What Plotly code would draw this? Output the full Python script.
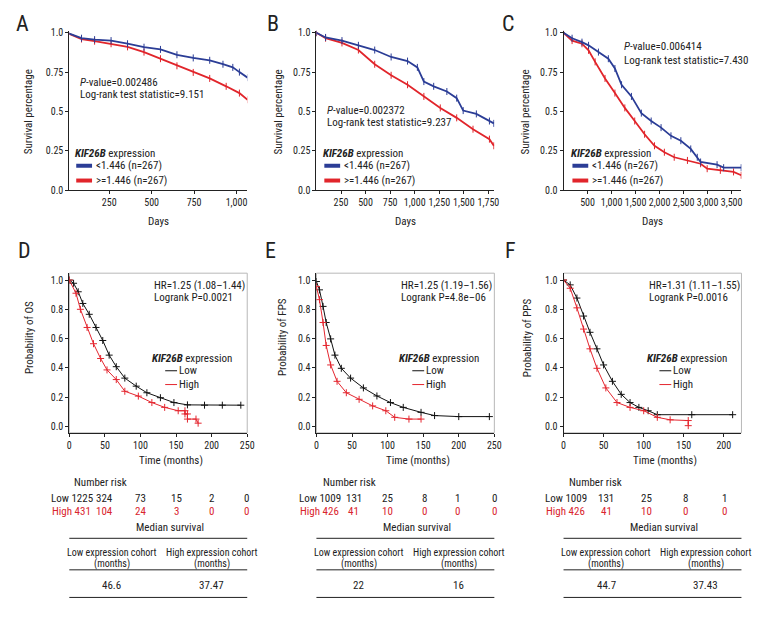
import plotly.graph_objects as go

FONT = "Roboto Condensed, Liberation Sans Narrow, sans-serif"
W, H = 780, 624
OFF = 8  # page body margin
BLUE = "#2b3d96"
RED = "#e1252b"
DRED = "#d9252e"
TXT = "#222222"
FS = 11
TFS = 10

# ---------------- data ----------------
# Panel A (days)
a_low_t = [0, 87, 164, 261, 358, 455, 552, 649, 745, 842, 920, 978, 1017, 1065]
a_low_s = [1.0, 0.965, 0.956, 0.95, 0.93, 0.908, 0.894, 0.86, 0.84, 0.825, 0.80, 0.78, 0.75, 0.715]
a_high_t = [0, 87, 164, 261, 358, 455, 552, 649, 745, 842, 939, 1017, 1065]
a_high_s = [1.0, 0.96, 0.946, 0.93, 0.91, 0.877, 0.835, 0.79, 0.748, 0.71, 0.66, 0.617, 0.575]
# Panel B
b_low_t = [0, 93, 260, 427, 593, 760, 927, 1027, 1093, 1193, 1327, 1427, 1493, 1627, 1760, 1805]
b_low_s = [1.0, 0.97, 0.95, 0.92, 0.89, 0.846, 0.82, 0.78, 0.69, 0.66, 0.627, 0.585, 0.506, 0.485, 0.44, 0.425]
b_high_t = [0, 93, 260, 427, 593, 760, 927, 1093, 1260, 1427, 1593, 1760, 1805]
b_high_s = [1.0, 0.965, 0.935, 0.89, 0.80, 0.73, 0.67, 0.596, 0.523, 0.46, 0.388, 0.325, 0.283]
# Panel C
c_low_t = [0, 178, 384, 521, 727, 933, 1070, 1208, 1414, 1620, 1825, 2031, 2237, 2443, 2649, 2785, 2854, 3197, 3334, 3700]
c_low_s = [1.0, 0.965, 0.94, 0.92, 0.877, 0.835, 0.773, 0.67, 0.596, 0.49, 0.44, 0.398, 0.346, 0.315, 0.263, 0.21, 0.18, 0.163, 0.144, 0.144]
c_high_t = [0, 178, 384, 521, 658, 864, 1070, 1276, 1482, 1688, 1894, 2100, 2305, 2580, 2854, 2991, 3265, 3540, 3700]
c_high_s = [1.0, 0.95, 0.93, 0.888, 0.815, 0.71, 0.617, 0.523, 0.44, 0.356, 0.283, 0.242, 0.21, 0.19, 0.169, 0.1375, 0.127, 0.117, 0.096]
# Panel D (months)
d_low_t = [0, 6, 12.5, 19, 28, 37.5, 47, 56, 66, 78, 94, 109, 128, 147, 166, 190, 215, 241]
d_low_s = [1.0, 0.978, 0.92, 0.84, 0.766, 0.676, 0.587, 0.487, 0.408, 0.33, 0.275, 0.23, 0.196, 0.163, 0.147, 0.145, 0.145, 0.145]
d_high_t = [0, 9.4, 15.6, 25, 34, 44, 53, 66, 78, 97, 116, 134, 153, 162.5, 162.5, 166, 166, 178, 181]
d_high_s = [1.0, 0.91, 0.80, 0.676, 0.565, 0.464, 0.386, 0.32, 0.24, 0.207, 0.163, 0.13, 0.107, 0.107, 0.085, 0.085, 0.05, 0.05, 0.022]
# Panel E
e_low_t = [0, 4.3, 9.3, 13.7, 20, 26, 35, 48, 66, 85, 104, 122, 147, 166, 200, 243]
e_low_s = [0.99, 0.933, 0.82, 0.71, 0.598, 0.487, 0.397, 0.33, 0.263, 0.208, 0.163, 0.13, 0.096, 0.074, 0.067, 0.067]
e_high_t = [0, 4.3, 9.3, 13.7, 20, 29, 42, 60, 79, 97.5, 110, 130, 147]
e_high_s = [0.955, 0.866, 0.71, 0.553, 0.42, 0.308, 0.23, 0.185, 0.14, 0.107, 0.062, 0.05, 0.05]
# Panel F
f_low_t = [0, 8.3, 16.7, 25, 33, 41.7, 50, 61, 72, 83, 94, 105.6, 117, 160, 211]
f_low_s = [1.0, 0.967, 0.877, 0.754, 0.643, 0.53, 0.42, 0.308, 0.219, 0.163, 0.13, 0.107, 0.08, 0.08, 0.08]
f_high_t = [0, 8.3, 16.7, 25, 33, 41.7, 52.8, 66.7, 83, 100, 117, 133, 155.6, 155.6]
f_high_s = [1.0, 0.944, 0.81, 0.665, 0.53, 0.397, 0.263, 0.163, 0.13, 0.107, 0.062, 0.045, 0.04, 0.005]

top_stats = [("0.002486", "9.151"), ("0.002372", "9.237"), ("0.006414", "7.430")]
top_groups = ["<1.446 (n=267)", ">=1.446 (n=267)"]
bottom_hr = [("1.25 (1.08\u20131.44)", "0.0021"), ("1.25 (1.19\u20131.56)", "4.8e\u201306"), ("1.31 (1.11\u20131.55)", "0.0016")]
bottom_ylabels = ["Probability of OS", "Probability of FPS", "Probability of PPS"]
risk_low = [["1225", "324", "73", "15", "2", "0"], ["1009", "131", "25", "8", "1", "0"], ["1009", "131", "25", "8", "1"]]
risk_high = [["431", "104", "24", "3", "0", "0"], ["426", "41", "10", "0", "0", "0"], ["426", "41", "10", "0", "0"]]
median_low = ["46.6", "22", "44.7"]
median_high = ["37.47", "16", "37.43"]

# ---------------- layout helpers ----------------
def px(x):
    return (x - OFF) / W

def py(y):
    return 1 - (y - OFF) / H

fig = go.Figure()
annotations = []
shapes = []

def ann(x, y, text, xanchor="left", size=FS, color=TXT, angle=0):
    annotations.append(dict(x=px(x), y=py(y), xref="paper", yref="paper", text=text,
                            showarrow=False, xanchor=xanchor, yanchor="middle", borderpad=0,
                            textangle=angle, font=dict(family=FONT, size=size, color=color)))

def hline(x0, x1, y, color=TXT, width=1):
    shapes.append(dict(type="line", xref="paper", yref="paper", x0=px(x0), x1=px(x1),
                       y0=py(y), y1=py(y), line=dict(color=color, width=width)))

lefts = [68, 318, 568]

axis_common = dict(showgrid=False, zeroline=False, showline=True, linecolor=TXT, linewidth=1,
                   ticks="outside", ticklen=3, tickcolor=TXT, tickangle=0,
                   tickfont=dict(family=FONT, size=TFS, color=TXT))

layout_axes = {}

top_data = [(a_low_t, a_low_s, a_high_t, a_high_s, [15, 1063], [250, 500, 750, 1000]),
            (b_low_t, b_low_s, b_high_t, b_high_s, [0, 1810], [250, 500, 750, 1000, 1250, 1500, 1750]),
            (c_low_t, c_low_s, c_high_t, c_high_s, [0, 3705], [500, 1000, 1500, 2000, 2500, 3000, 3500])]
for i, (lt, ls, ht, hs, xr, tv) in enumerate(top_data):
    n = i + 1
    xa = "x" if n == 1 else f"x{n}"
    ya = "y" if n == 1 else f"y{n}"
    L = lefts[i]
    layout_axes["xaxis" if n == 1 else f"xaxis{n}"] = dict(
        domain=[px(L), px(L + 180)], range=xr, anchor=ya, tickvals=tv, tickformat=",", **axis_common)
    layout_axes["yaxis" if n == 1 else f"yaxis{n}"] = dict(
        domain=[py(189), py(27)], range=[0, 1.0125], anchor=xa,
        tickvals=[0, 0.25, 0.5, 0.75, 1.0], ticktext=["0.0", "0.25", "0.5", "0.75", "1.0"], **axis_common)
    for t, s, c in [(ht, hs, RED), (lt, ls, BLUE)]:
        fig.add_trace(go.Scatter(x=t, y=s, xaxis=xa, yaxis=ya, mode="lines+markers",
                                 line=dict(color=c, width=1.8),
                                 marker=dict(symbol="line-ns-open", size=5, color=c, line=dict(width=1, color=c)),
                                 showlegend=False, hoverinfo="skip"))

bot_data = [(d_low_t, d_low_s, d_high_t, d_high_s, [0, 250], [0, 50, 100, 150, 200, 250]),
            (e_low_t, e_low_s, e_high_t, e_high_s, [0, 250], [0, 50, 100, 150, 200, 250]),
            (f_low_t, f_low_s, f_high_t, f_high_s, [0, 222], [0, 50, 100, 150, 200])]
for i, (lt, ls, ht, hs, xr, tv) in enumerate(bot_data):
    n = i + 4
    xa, ya = f"x{n}", f"y{n}"
    L = lefts[i]
    layout_axes[f"xaxis{n}"] = dict(domain=[px(L), px(L + 180)], range=xr, anchor=ya, tickvals=tv, **axis_common)
    layout_axes[f"yaxis{n}"] = dict(domain=[py(435), py(273)], range=[-0.044, 1.047], anchor=xa,
                                    tickvals=[0, 0.2, 0.4, 0.6, 0.8, 1.0], tickformat=".1f", **axis_common)
    shapes.append(dict(type="rect", xref=f"{xa} domain", yref=f"{ya} domain", x0=0, x1=1, y0=0, y1=1,
                       line=dict(color="#b8b8b8", width=1), layer="below"))
    for t, s, c in [(lt, ls, "#111111"), (ht, hs, "#e4262f")]:
        fig.add_trace(go.Scatter(x=t, y=s, xaxis=xa, yaxis=ya, mode="lines+markers",
                                 line=dict(color=c, width=1),
                                 marker=dict(symbol="cross-thin-open", size=5, color=c, line=dict(width=1, color=c)),
                                 showlegend=False, hoverinfo="skip"))

# panel letters
for lab, x, y in [("A", 13, 20), ("B", 267, 20), ("C", 505, 20), ("D", 15, 250), ("E", 265, 250), ("F", 508, 250)]:
    ann(x, y, lab, size=22)

# top panel texts
pv_pos = [(78, 80, 92), (328, 108, 120), (628, 43, 57)]
leg_x = [73, 324, 575]
ytitle_x_top = [27, 280, 530]
for i in range(3):
    L = lefts[i]
    ann(ytitle_x_top[i], 109, "Survival percentage", xanchor="center", angle=-90)
    ann(L + 90, 221, "Days", xanchor="center")
    x0, y1, y2 = pv_pos[i]
    ann(x0, y1, f"<i>P</i>-value={top_stats[i][0]}")
    ann(x0, y2, f"Log-rank test statistic={top_stats[i][1]}")
    lx = leg_x[i]
    ann(lx, 152, "<b><i>KIF26B</i></b> expression")
    for yy, c, txt in [(164, BLUE, top_groups[0]), (179, RED, top_groups[1])]:
        hline(lx + 2, lx + 18, yy, color=c, width=4)
        ann(lx + 21, yy, txt)

# bottom panel texts
ytitle_x_bot = [27, 283, 531]
for i in range(3):
    L = lefts[i]
    ann(ytitle_x_bot[i], 338, bottom_ylabels[i], xanchor="center", angle=-90)
    ann(L + 103, 463, "Time (months)", xanchor="center")
    ann(L + 85, 285, f"HR={bottom_hr[i][0]}")
    ann(L + 85, 298, f"Logrank P={bottom_hr[i][1]}")
    lx = L + 83
    ann(lx, 360, "<b><i>KIF26B</i></b> expression")
    hline(lx + 14, lx + 26, 372, color="#111111", width=1)
    ann(lx + 27, 372, "Low")
    hline(lx + 14, lx + 26, 386, color="#e4262f", width=1)
    ann(lx + 27, 386, "High")

# number at risk
nr_center = [100, 351, 600]
row_start = [48, 299, 548]
num_x = [[104, 140, 176, 212, 247], [356, 390, 427, 461, 498], [611, 652, 691, 731]]
for i in range(3):
    ann(nr_center[i], 485, "Number risk", xanchor="center")
    ann(row_start[i], 502, f"Low {risk_low[i][0]}")
    ann(row_start[i] + 1, 515, f"High {risk_high[i][0]}", color=DRED)
    for j, x in enumerate(num_x[i]):
        ann(x, 502, risk_low[i][j + 1], xanchor="center")
        ann(x, 515, risk_high[i][j + 1], xanchor="center", color=DRED)

# median survival tables
for i in range(3):
    L = lefts[i]
    ann(L + 102, 531, "Median survival", xanchor="center")
    for yy in (542, 574, 602):
        hline(L, L + 180, yy)
    cl, ch = L + 43, L + 144
    ann(cl, 556, "Low expression cohort", xanchor="center", size=10)
    ann(cl, 568, "(months)", xanchor="center", size=10)
    ann(ch, 556, "High expression cohort", xanchor="center", size=10)
    ann(ch, 568, "(months)", xanchor="center", size=10)
    ann(cl, 590, median_low[i], xanchor="center")
    ann(ch, 590, median_high[i], xanchor="center")

fig.update_layout(width=W, height=H, margin=dict(l=0, r=0, t=0, b=0),
                  paper_bgcolor="white", plot_bgcolor="white",
                  annotations=annotations, shapes=shapes, showlegend=False,
                  font=dict(family=FONT, size=FS, color=TXT), **layout_axes)

fig.write_html("out.html")
